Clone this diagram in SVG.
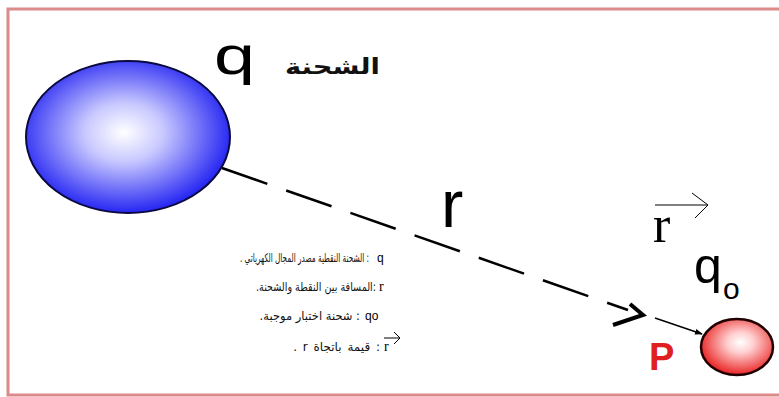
<svg xmlns="http://www.w3.org/2000/svg" width="779" height="397" viewBox="0 0 779 397">
<defs>
<radialGradient id="gBlue" cx="0.48" cy="0.47" r="0.55">
<stop offset="0" stop-color="#ffffff"/>
<stop offset="0.35" stop-color="#c8c8ff"/>
<stop offset="1" stop-color="#1c1cf2"/>
</radialGradient>
<radialGradient id="gRed" cx="0.55" cy="0.42" r="0.6">
<stop offset="0" stop-color="#ffffff"/>
<stop offset="0.3" stop-color="#ffd0d0"/>
<stop offset="1" stop-color="#e81c1c"/>
</radialGradient>
<marker id="ah" markerWidth="8" markerHeight="8" refX="7" refY="4" orient="auto" markerUnits="userSpaceOnUse">
<path d="M0,1 L8,4 L0,7 Z" fill="#000"/>
</marker>
</defs>
<style>
.sans{font-family:"Liberation Sans",Arial,sans-serif;fill:#000}
.serif{font-family:"Liberation Serif","Times New Roman",serif;fill:#000}
.ar{font-family:"DejaVu Sans","Noto Sans",sans-serif;fill:#111;font-size:12px}
.thin{stroke:#000;stroke-width:1;fill:none}
</style>
<rect x="0" y="0" width="779" height="397" fill="#fff"/>
<rect x="8" y="9" width="800" height="386" fill="none" stroke="#dc8a8a" stroke-width="3"/>

<g id="charge-q">
<ellipse cx="128" cy="137" rx="102" ry="76" fill="url(#gBlue)" stroke="#0a0a40" stroke-width="2"/>
<text class="sans" x="214" y="74" font-size="54" textLength="41" lengthAdjust="spacingAndGlyphs">q</text>
<text x="380" y="74" font-size="22" font-weight="bold" direction="rtl" text-anchor="start" style="font-family:'DejaVu Sans',sans-serif" fill="#111" textLength="95" lengthAdjust="spacingAndGlyphs">الشحنة</text>
</g>

<g id="point-p">
<ellipse cx="737" cy="347" rx="36" ry="28" fill="url(#gRed)" stroke="#200000" stroke-width="2.5"/>
<text class="sans" x="649" y="370" font-size="38" font-weight="bold" style="fill:#e02020">P</text>
<text class="sans" x="694" y="283" font-size="50">q</text>
<text class="sans" x="723" y="299" font-size="30">o</text>
</g>

<g id="label-r">
<text class="sans" x="441" y="227" font-size="67">r</text>
</g>

<g id="vector-r">
<text class="serif" x="653" y="242" font-size="52">r</text>
<line class="thin" x1="655" y1="205" x2="708" y2="205"/>
<polyline class="thin" points="692,193 708,205 695,218"/>
</g>

<g id="connectors">
<line x1="222" y1="168" x2="628" y2="310" stroke="#000" stroke-width="2.5" stroke-dasharray="48 20"/>
<polyline points="630,304 643,315 613,325" fill="none" stroke="#000" stroke-width="4" stroke-linejoin="miter"/>
<line x1="655" y1="318" x2="702" y2="334" stroke="#000" stroke-width="1.5" marker-end="url(#ah)"/>
</g>

<g id="legend">
<text class="sans" x="377" y="262" font-size="12">q</text>
<text class="ar" transform="translate(369,262) scale(0.61,1)" x="0" y="0" direction="rtl" text-anchor="start">: الشحنة النقطية مصدر المجال الكهرياتي .</text>

<text class="serif" x="379" y="291" font-size="14">r</text>
<text class="ar" transform="translate(376,291) scale(0.8,1)" x="0" y="0" direction="rtl" text-anchor="start">:المسافة بين النقطة والشحنة.</text>

<text class="sans" x="365" y="320" font-size="12">qo</text>
<text class="ar" transform="translate(360,320) scale(0.96,1)" x="0" y="0" direction="rtl" text-anchor="start">: شحنة اختبار موجبة.</text>

<text class="serif" x="384" y="351" font-size="14">r</text>
<line class="thin" x1="384" y1="338" x2="400" y2="338"/>
<polyline class="thin" points="394,332 400,338 394,344"/>
<text class="ar" x="380" y="351" direction="rtl" text-anchor="start" font-size="12.5" word-spacing="2">: قيمة باتجاة r .</text>
</g>
</svg>
